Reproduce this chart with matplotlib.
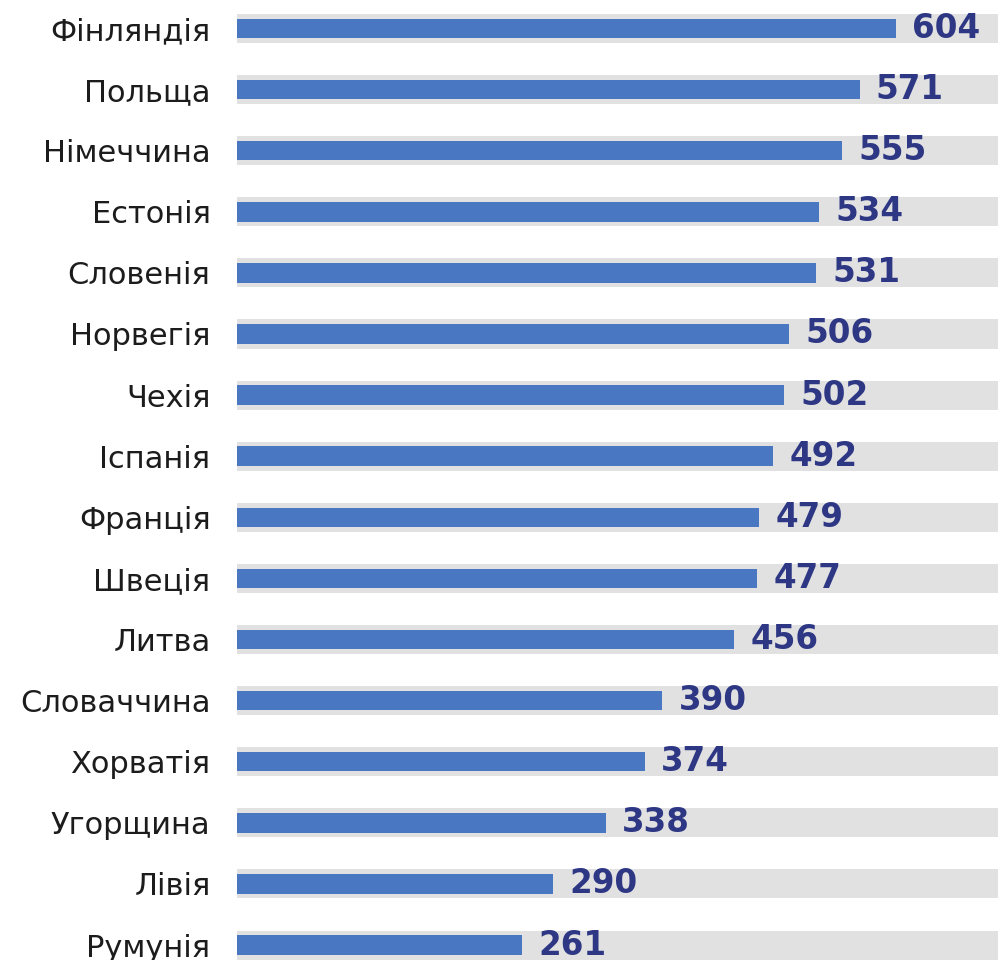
import matplotlib.pyplot as plt

countries = ['Фінляндія', 'Польща', 'Німеччина', 'Естонія', 'Словенія', 'Норвегія',
             'Чехія', 'Іспанія', 'Франція', 'Швеція', 'Литва', 'Словаччина',
             'Хорватія', 'Угорщина', 'Лівія', 'Румунія']
values = [604, 571, 555, 534, 531, 506, 502, 492, 479, 477, 456, 390, 374, 338, 290, 261]

bar_color = '#4a77c1'
track_color = '#e1e1e1'
value_color = '#2d3784'

fig = plt.figure(figsize=(9.98, 9.6), dpi=100)
ax = fig.add_axes([237 / 998, 0, 1 - 237 / 998, 1])

pos = list(range(len(countries)))
xmax = 698
# grey tracks behind every bar
ax.barh(pos, [xmax + 10] * len(pos), height=0.475, color=track_color, zorder=1)
ax.barh(pos, values, height=0.32, color=bar_color, zorder=2)

for y, v in zip(pos, values):
    ax.text(v + 15, y, str(v), va='center', ha='left', fontsize=23.5,
            fontweight='bold', color=value_color, zorder=3)

ax.set_xlim(0, xmax)
ax.set_ylim(15.245, -0.466)
ax.set_yticks(pos)
ax.set_yticklabels(countries, fontsize=22, color='#1c1c1c')
ax.tick_params(axis='y', length=0, pad=19)
ax.set_xticks([])
for s in ax.spines.values():
    s.set_visible(False)

fig.savefig('out.png', dpi=100)
